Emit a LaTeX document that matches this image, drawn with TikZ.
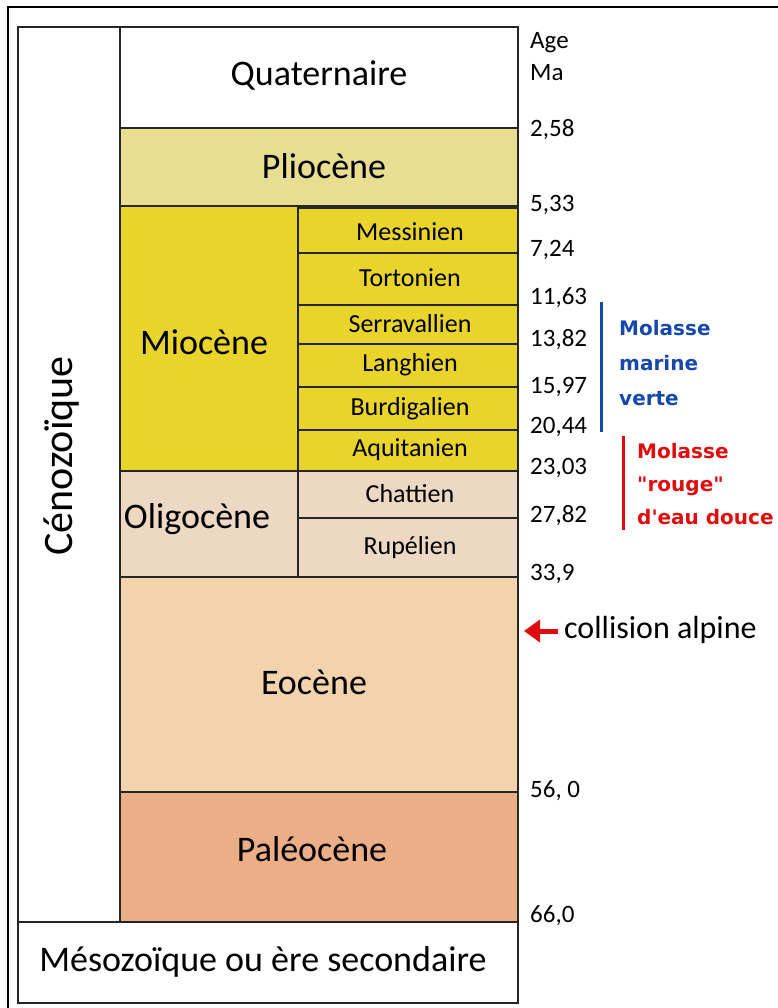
\documentclass[tikz,border=0pt]{standalone}
\usepackage{fontspec}
\setmainfont{Carlito}
\newfontfamily\molfont{DejaVu Sans}
\usepackage{xcolor}
\usepackage{tikz}
\usetikzlibrary{arrows.meta,positioning}
\definecolor{pliocol}{RGB}{232,222,146}
\definecolor{miocol}{RGB}{232,212,42}
\definecolor{oligocol}{RGB}{237,216,196}
\definecolor{eocol}{RGB}{243,211,171}
\definecolor{paleocol}{RGB}{236,174,134}
\definecolor{marinecol}{RGB}{22,72,172}
\definecolor{rougecol}{RGB}{222,12,12}

\begin{document}
\begin{tikzpicture}[x=1pt,y=-1pt,
    box/.style={draw=black!85, line width=1.6pt},
    epoch/.style={font=\fontsize{36}{36}\selectfont},
    stage/.style={font=\fontsize{26}{26}\selectfont},
    age/.style={anchor=west, font=\fontsize{25}{25}\selectfont, inner sep=0pt},
    molasse/.style={anchor=west, align=left, inner sep=0pt}]
  \useasboundingbox (0,0) rectangle (778,1008);

  % outer frame of the page
  \draw[line width=1.2pt] (8,1008) -- (8,7) -- (778,7);

  % Cenozoic column
  \draw[box] (18,27) rectangle (518,1003);
  \node[rotate=90, font=\fontsize{42}{42}\selectfont] (ceno) at (62,456) {Cénozoïque};

  % Quaternaire and Pliocene
  \draw[box, fill=white] (120,27) rectangle (518,128);
  \node[epoch] (quat) at (319,76) {Quaternaire};
  \draw[box, fill=pliocol] (120,128) rectangle (518,206);
  \node[epoch] (plio) at (324,166) {Pliocène};

  % Miocene and its stages
  \draw[box, fill=miocol] (120,206) rectangle (298,471);
  \node[epoch] (mio) at (204,342) {Miocène};
  \draw[box, fill=miocol] (298,208) rectangle (518,253);
  \node[stage] (messi) at (410,232) {Messinien};
  \draw[box, fill=miocol] (298,253) rectangle (518,305);
  \node[stage] (torto) at (410,278) {Tortonien};
  \draw[box, fill=miocol] (298,305) rectangle (518,344);
  \node[stage] (serra) at (410,324) {Serravallien};
  \draw[box, fill=miocol] (298,344) rectangle (518,387);
  \node[stage] (langh) at (410,365) {Langhien};
  \draw[box, fill=miocol] (298,387) rectangle (518,430);
  \node[stage] (burdi) at (410,409) {Burdigalien};
  \draw[box, fill=miocol] (298,430) rectangle (518,471);
  \node[stage] (aquit) at (410,450) {Aquitanien};

  % Oligocene and its stages
  \draw[box, fill=oligocol] (120,471) rectangle (298,577);
  \node[epoch] (oligo) at (197,519) {Oligocène};
  \draw[box, fill=oligocol] (298,471) rectangle (518,518);
  \node[stage] (chatt) at (410,494) {Chattien};
  \draw[box, fill=oligocol] (298,518) rectangle (518,577);
  \node[stage] (rupel) at (410,548) {Rupélien};

  % Eocene, Paleocene
  \draw[box, fill=eocol] (120,577) rectangle (518,792);
  \node[epoch] (eo) at (314,682) {Eocène};
  \draw[box, fill=paleocol] (120,792) rectangle (518,922);
  \node[epoch] (paleo) at (312,849) {Paléocène};

  % Mesozoic
  \draw[box, fill=white] (18,922) rectangle (518,1003);
  \node[epoch] (meso) at (263,962) {Mésozoïque ou ère secondaire};

  % ages in Ma
  \node[age] (agehead) at (530,43) {Age};
  \node[age] (ma) at (530,73) {Ma};
  \node[age] (a258) at (530,130) {2,58};
  \node[age] (a533) at (530,205) {5,33};
  \node[age] (a724) at (530,250) {7,24};
  \node[age] (a1163) at (530,298) {11,63};
  \node[age] (a1382) at (530,340) {13,82};
  \node[age] (a1597) at (530,387) {15,97};
  \node[age] (a2044) at (530,427) {20,44};
  \node[age] (a2303) at (530,468) {23,03};
  \node[age] (a2782) at (530,516) {27,82};
  \node[age] (a339) at (530,574) {33,9};
  \node[age] (a560) at (530,791) {56, 0};
  \node[age] (a660) at (530,916) {66,0};

  % molasse brackets
  \draw[marinecol, line width=3pt] (601,302) -- (601,432);
  \node[molasse, text=marinecol, font=\molfont\bfseries\fontsize{20}{35}\selectfont]
    (marine) at (619,363) {Molasse\\marine\\verte};
  \draw[rougecol, line width=3pt] (623,436) -- (623,530);
  \node[molasse, text=rougecol, font=\molfont\bfseries\fontsize{20}{33}\selectfont]
    (rouge) at (637,484) {Molasse\\"rouge"\\d'eau douce};

  % collision
  \node[anchor=west, inner sep=0pt, font=\fontsize{32}{32}\selectfont]
    (coll) at (564,630) {collision alpine};
  \coordinate (colltip) at (524,631);
  \draw[rougecol, line width=5pt, -{Triangle[length=16pt,width=22pt]}]
    (coll.west) ++(-6,1) coordinate (collfoot) -- (colltip);
\end{tikzpicture}
\end{document}
